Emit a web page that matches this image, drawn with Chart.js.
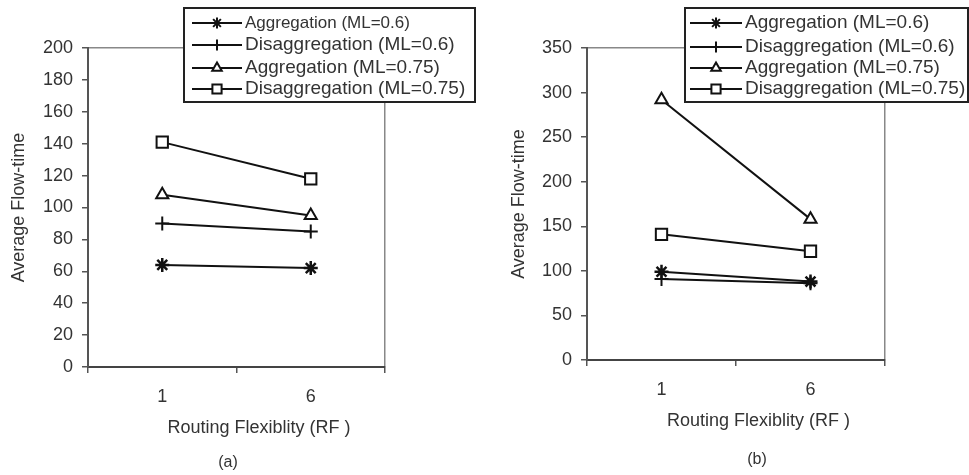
<!DOCTYPE html>
<html>
<head>
<meta charset="utf-8">
<script src="https://cdn.jsdelivr.net/npm/chart.js@4.4.0/dist/chart.umd.min.js"></script>
<style>
html, body { margin: 0; padding: 0; background: #fff; }
#wrap { position: relative; width: 969px; height: 475px; overflow: hidden; }
.panel { position: absolute; top: 0; }
</style>
</head>
<body>
<div id="wrap">
  <div class="panel" style="left:0"><canvas id="chartA" width="484" height="475"></canvas></div>
  <div class="panel" style="left:484px"><canvas id="chartB" width="485" height="475"></canvas></div>
</div>
<script>
// Shared categories / series
const rfLevels = ['1', '6'];
const seriesNames = [
    'Aggregation (ML=0.6)',
    'Disaggregation (ML=0.6)',
    'Aggregation (ML=0.75)',
    'Disaggregation (ML=0.75)'
];
const markerStyles = ['star', 'cross', 'triangle', 'rect'];

// Panel (a)
const aggA06 = [64, 62];
const disA06 = [90, 85];
const aggA075 = [108, 95];
const disA075 = [141, 118];
const yTicksA = [0, 20, 40, 60, 80, 100, 120, 140, 160, 180, 200];

// Panel (b)
const aggB06 = [99, 88];
const disB06 = [91, 86];
const aggB075 = [292, 158];
const disB075 = [141, 122];
const yTicksB = [0, 50, 100, 150, 200, 250, 300, 350];

const FONT = "'Liberation Sans', Arial, sans-serif";
const TEXT = '#333';
const markerRadius = [7, 7, 7, 8];

function makeDatasets(values) {
    return values.map((v, i) => ({
        label: seriesNames[i],
        data: v,
        borderColor: '#111',
        borderWidth: 2,
        pointStyle: markerStyles[i],
        pointRadius: markerRadius[i],
        pointBorderColor: '#111',
        pointBackgroundColor: '#fff',
        pointBorderWidth: i === 0 ? 2.5 : 2,
        tension: 0
    }));
}

// Boxed legend drawn over the plot, plus the panel letter underneath
const boxLegend = {
    id: 'boxLegend',
    afterDraw(chart, args, opts) {
        const ctx = chart.ctx;
        ctx.save();
        ctx.fillStyle = '#fff';
        ctx.fillRect(opts.x, opts.y, opts.w, opts.h);
        ctx.strokeStyle = '#222';
        ctx.lineWidth = 2;
        ctx.strokeRect(opts.x, opts.y, opts.w, opts.h);

        chart.data.datasets.forEach((ds, i) => {
            const y = opts.rowY[i];
            ctx.strokeStyle = '#111';
            ctx.lineWidth = 2;
            ctx.beginPath();
            ctx.moveTo(opts.lineX0, y);
            ctx.lineTo(opts.lineX1, y);
            ctx.stroke();
            ctx.fillStyle = '#fff';
            Chart.helpers.drawPoint(ctx, {
                pointStyle: ds.pointStyle,
                radius: ds.pointRadius - 1.5,
                rotation: 0,
                borderWidth: 2
            }, (opts.lineX0 + opts.lineX1) / 2, y);
            ctx.fillStyle = TEXT;
            ctx.font = opts.fontSizes[i] + 'px ' + FONT;
            ctx.textAlign = 'left';
            ctx.textBaseline = 'middle';
            ctx.fillText(ds.label, opts.textX, y);
        });

        ctx.font = '16px ' + FONT;
        ctx.textAlign = 'center';
        ctx.fillStyle = TEXT;
        ctx.fillText(opts.letter, opts.letterX, opts.letterY);
        ctx.restore();
    }
};

function makeChart(id, datasets, yTicks, size, legendOpts) {
    const yMax = yTicks[yTicks.length - 1];
    return new Chart(document.getElementById(id), {
        type: 'line',
        data: { labels: rfLevels, datasets: datasets },
        plugins: [boxLegend],
        options: {
            responsive: false,
            animation: false,
            layout: { padding: { left: 0, right: size.right, top: 48, bottom: 0 } },
            plugins: {
                legend: { display: false },
                tooltip: { enabled: false },
                boxLegend: legendOpts
            },
            scales: {
                x: {
                    offset: true,
                    afterFit: s => { s.height = size.xHeight; },
                    border: { color: '#444', width: 2 },
                    grid: {
                        offset: true,
                        color: c => c.tick ? 'transparent' : '#888',
                        lineWidth: 1.5,
                        tickColor: '#555',
                        tickLength: 6
                    },
                    ticks: { color: TEXT, font: { family: FONT, size: 18 }, padding: 13 },
                    title: {
                        display: true,
                        text: '         Routing Flexiblity (RF )',
                        color: TEXT,
                        font: { family: FONT, size: 18 },
                        padding: { top: 0, bottom: size.xTitlePad }
                    }
                },
                y: {
                    min: yTicks[0],
                    max: yMax,
                    afterFit: s => { s.width = size.yWidth; },
                    afterBuildTicks: s => { s.ticks = yTicks.map(v => ({ value: v })); },
                    border: { color: '#555', width: 2 },
                    grid: {
                        color: c => (c.tick && c.tick.value === yMax) ? '#888' : 'transparent',
                        lineWidth: 1.5,
                        tickColor: '#555',
                        tickLength: 6
                    },
                    ticks: { color: TEXT, font: { family: FONT, size: 18 }, padding: size.yTickPad },
                    title: {
                        display: true,
                        text: 'Average Flow-time',
                        color: TEXT,
                        font: { family: FONT, size: 18 },
                        padding: { top: size.yTitlePad, bottom: 0 }
                    }
                }
            }
        }
    });
}

makeChart('chartA',
    makeDatasets([aggA06, disA06, aggA075, disA075]),
    yTicksA,
    { right: 99, xHeight: 108, yWidth: 88, yTickPad: 9, xTitlePad: 36, yTitlePad: 8 },
    {
        x: 184, y: 8, w: 291, h: 94,
        lineX0: 192, lineX1: 242, textX: 245,
        rowY: [23, 45, 68, 89],
        fontSizes: [17, 19, 19, 19],
        letter: '(a)', letterX: 228, letterY: 463
    });

makeChart('chartB',
    makeDatasets([aggB06, disB06, aggB075, disB075]),
    yTicksB,
    { right: 84, xHeight: 115, yWidth: 103, yTickPad: 9, xTitlePad: 43, yTitlePad: 24 },
    {
        x: 201, y: 8, w: 283, h: 94,
        lineX0: 206, lineX1: 258, textX: 261,
        rowY: [23, 47, 68, 89],
        fontSizes: [19, 19, 19, 19],
        letter: '(b)', letterX: 273, letterY: 460
    });
</script>
</body>
</html>
